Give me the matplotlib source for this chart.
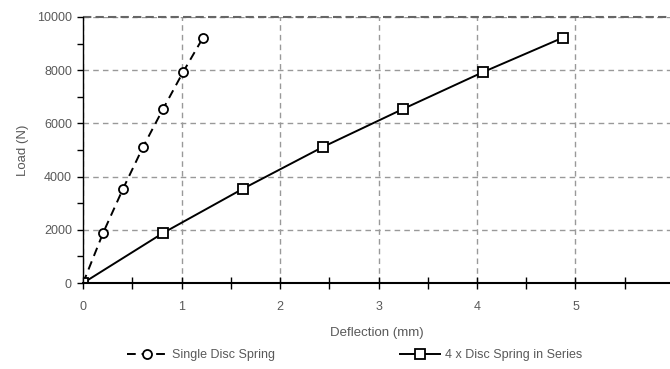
import numpy as np
import matplotlib.pyplot as plt
from matplotlib.ticker import MultipleLocator

plt.rcParams['font.family'] = ['Liberation Sans Narrow', 'Liberation Sans', 'DejaVu Sans']

# deflection (mm) and load (N)
defl_single = [0, 0.203, 0.406, 0.609, 0.812, 1.015, 1.218]
defl_series = [0, 0.812, 1.624, 2.436, 3.248, 4.06, 4.872]
load = [0, 1880, 3545, 5115, 6540, 7925, 9222]

grey = '#595959'

fig = plt.figure(figsize=(6.7, 3.69), dpi=100)
ax = fig.add_axes([0.124, 0.233, 0.876, 0.721])

ax.plot(defl_single, load, '--', color='black', lw=1.4, marker='o', ms=6.5,
        mfc='white', mec='black', mew=1.3, dashes=(4.5, 3), label='Single Disc Spring')
ax.plot(defl_series, load, '-', color='black', lw=1.4, marker='s', ms=6.5,
        mfc='white', mec='black', mew=1.3, label='4 x Disc Spring in Series')

ax.set_xlim(0, 5.96)
ax.set_ylim(0, 10000)
ax.xaxis.set_major_locator(MultipleLocator(1))
ax.xaxis.set_minor_locator(MultipleLocator(0.5))
ax.yaxis.set_major_locator(MultipleLocator(2000))
ax.yaxis.set_minor_locator(MultipleLocator(1000))

ax.grid(True, which='major', ls=(0, (4, 3)), color='#999999', lw=1.0)
ax.set_axisbelow(True)

for s in ['right', 'top']:
    ax.spines[s].set_visible(False)
ax.spines['left'].set_color('black')
ax.spines['bottom'].set_color('black')
ax.spines['bottom'].set_linewidth(1.5)
ax.spines['left'].set_linewidth(1.0)
ax.axhline(10000, color='#666666', lw=1.5, ls=(0, (4, 2)), clip_on=False)

ax.tick_params(axis='x', which='both', direction='inout', length=8, width=1,
               colors='black', labelcolor=grey, labelsize=9, pad=9)
ax.tick_params(axis='y', which='both', direction='out', length=4, width=1,
               colors='black', labelcolor=grey, labelsize=9, pad=4)

ax.set_xlabel('Deflection (mm)', color=grey, fontsize=9.5, labelpad=10)
ax.set_ylabel('Load (N)', color=grey, fontsize=9.5, labelpad=6)

leg = fig.legend(loc='lower center', bbox_to_anchor=(0.530, -0.01), ncol=2,
                 frameon=False, fontsize=9, handlelength=3.2, columnspacing=10,
                 handletextpad=0.4)
for t in leg.get_texts():
    t.set_color(grey)

fig.savefig('out.png', dpi=100)
